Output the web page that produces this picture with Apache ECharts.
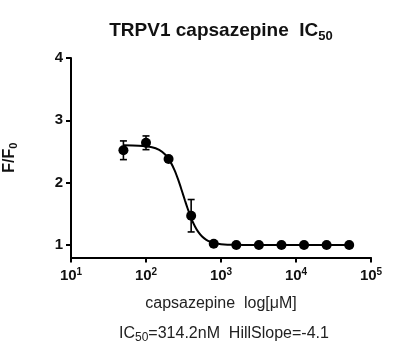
<!DOCTYPE html>
<html><head><meta charset="utf-8">
<script src="https://cdn.jsdelivr.net/npm/echarts@6/dist/echarts.min.js"></script>
<style>html,body{margin:0;padding:0;background:#fff}#c{width:405px;height:363px}</style>
</head><body><div id="c"></div>
<script>
// concentrations (nM) and responses
var concentrations = [50, 100, 200, 400, 800, 1600, 3200, 6400, 12800, 25600, 51200];
var meanValues     = [2.52, 2.64, 2.38, 1.47, 1.02, 1.00, 1.00, 1.00, 1.00, 1.00, 1.00];
var errorValues    = [0.15, 0.11, 0.04, 0.26, 0.02, 0, 0, 0, 0, 0, 0];
// fitted curve
var curveX = [50, 80, 120, 150, 180, 210, 240, 270, 300, 330, 360, 400, 450, 500, 560, 630, 720, 850, 1000, 1500, 3000, 51200];
var curveY = [2.60, 2.594, 2.57, 2.526, 2.452, 2.342, 2.201, 2.04, 1.875, 1.719, 1.582, 1.432, 1.298, 1.207, 1.137, 1.087, 1.052, 1.027, 1.014, 1.003, 1.0, 1.0];
var yTicks = [1, 2, 3, 4];
var xTickExponents = {10: '1', 100: '2', 1000: '3', 10000: '4', 100000: '5'};

var font = '"Liberation Sans", Arial, sans-serif';
var chart = echarts.init(document.getElementById('c'), null, {renderer: 'canvas'});

var points = concentrations.map(function (c, i) { return [c, meanValues[i]]; });
var errs = concentrations.map(function (c, i) { return [c, meanValues[i] - errorValues[i], meanValues[i] + errorValues[i]]; });
var curve = curveX.map(function (c, i) { return [c, curveY[i]]; });

chart.setOption({
  animation: false,
  backgroundColor: '#fff',
  grid: { left: 71, right: 34, top: 58, bottom: 105.5, containLabel: false, outerBoundsMode: 'none' },
  xAxis: {
    type: 'log', logBase: 10, min: 10, max: 100000,
    name: 'capsazepine  log[\u03bcM]', nameLocation: 'middle', nameGap: 38,
    nameTextStyle: { fontFamily: font, fontSize: 16, color: '#222' },
    axisLine: { lineStyle: { color: '#000', width: 2 } },
    axisTick: { length: 5, lineStyle: { color: '#000', width: 2 } },
    splitLine: { show: false },
    minorTick: { show: false },
    axisLabel: {
      margin: 10, color: '#000',
      formatter: function (v) { var e = xTickExponents[Math.round(v)]; return '{b|10}{e|' + e + '}'; },
      rich: {
        b: { fontFamily: font, fontSize: 15, fontWeight: 'bold', color: '#111' },
        e: { fontFamily: font, fontSize: 10, fontWeight: 'bold', color: '#111', verticalAlign: 'top', padding: [0, 0, 6, 0] }
      }
    }
  },
  yAxis: {
    type: 'value', min: 0.8, max: 4,
    name: 'F/F{s|0}', nameLocation: 'middle', nameGap: 52, nameRotate: 90,
    nameTextStyle: {
      fontFamily: font, fontSize: 16, fontWeight: 'bold', color: '#111',
      rich: { s: { fontFamily: font, fontSize: 11, fontWeight: 'bold', color: '#111', verticalAlign: 'bottom', padding: [7, 0, 0, 0] } }
    },
    axisLine: { show: true, lineStyle: { color: '#000', width: 2 } },
    axisTick: { show: true, length: 5, customValues: yTicks, lineStyle: { color: '#000', width: 2 } },
    axisLabel: { customValues: yTicks, margin: 8, fontFamily: font, fontSize: 15, fontWeight: 'bold', color: '#111' },
    splitLine: { show: false }
  },
  series: [
    {
      type: 'line', data: curve, smooth: 0.3, showSymbol: false, symbol: 'none',
      lineStyle: { color: '#000', width: 2 }, z: 2
    },
    {
      type: 'custom', data: errs, z: 3,
      renderItem: function (params, api) {
        var x = api.value(0), lo = api.value(1), hi = api.value(2);
        if (hi - lo < 0.001) return null;
        var pLo = api.coord([x, lo]), pHi = api.coord([x, hi]);
        var w = 3.5;
        var st = { stroke: '#000', lineWidth: 1.6 };
        return { type: 'group', children: [
          { type: 'line', shape: { x1: pLo[0], y1: pLo[1], x2: pHi[0], y2: pHi[1] }, style: st },
          { type: 'line', shape: { x1: pLo[0] - w, y1: pLo[1], x2: pLo[0] + w, y2: pLo[1] }, style: st },
          { type: 'line', shape: { x1: pHi[0] - w, y1: pHi[1], x2: pHi[0] + w, y2: pHi[1] }, style: st }
        ]};
      }
    },
    {
      type: 'scatter', data: points, symbol: 'circle', symbolSize: 10,
      itemStyle: { color: '#000', opacity: 1 }, z: 4
    }
  ],
  graphic: [
    {
      type: 'text', x: 221, y: 31,
      style: {
        text: 'TRPV1 capsazepine  IC{s|50}', align: 'center', verticalAlign: 'middle',
        fontFamily: font, fontSize: 19, fontWeight: 'bold', fill: '#111',
        rich: { s: { fontFamily: font, fontSize: 13, fontWeight: 'bold', fill: '#111', verticalAlign: 'bottom', padding: [10, 0, 0, 0] } }
      }
    },
    {
      type: 'text', left: 119, top: 326,
      style: {
        text: 'IC{s|50}=314.2nM  HillSlope=-4.1',
        fontFamily: font, fontSize: 16, fill: '#222',
        rich: { s: { fontFamily: font, fontSize: 12, fill: '#222', verticalAlign: 'bottom', padding: [8, 0, 0, 0] } }
      }
    }
  ]
});
</script>
</body></html>
